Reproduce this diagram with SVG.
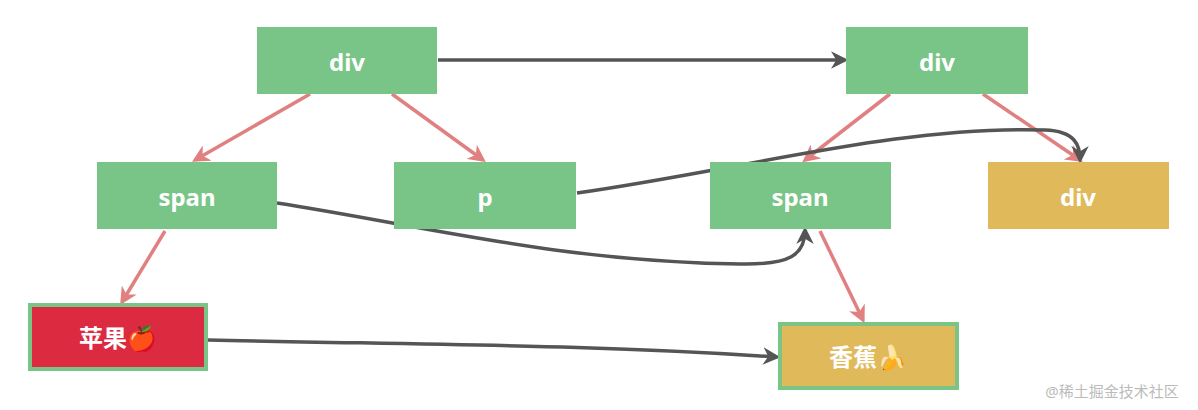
<svg xmlns="http://www.w3.org/2000/svg" width="1198" height="410" viewBox="0 0 1198 410">
<style>
.g{fill:#78c587}.y{fill:#dfb95a}.r{fill:#dc2a40}
.b{stroke:#78c587;stroke-width:4}
text{font-family:"Noto Sans","Noto Sans CJK SC",sans-serif;font-weight:bold;font-size:24px;fill:#fff;text-anchor:middle;dominant-baseline:central}
.red{stroke:#e08080;stroke-width:3.5;fill:none;marker-end:url(#ar)}
.dk{stroke:#555;stroke-width:3.5;fill:none;marker-end:url(#ad)}
</style>
<defs>
<marker id="ar" viewBox="0 0 10 10" refX="8" refY="5" markerWidth="5" markerHeight="5" orient="auto"><path d="M0,0L10,5L0,10L3,5z" fill="#e08080"/></marker>
<marker id="ad" viewBox="0 0 10 10" refX="8" refY="5" markerWidth="5" markerHeight="5" orient="auto"><path d="M0,0L10,5L0,10L3,5z" fill="#555"/></marker>
</defs>
<rect width="1198" height="410" fill="#fff"/>
<g id="connectors">
<path class="red" d="M310,94L195,160"/>
<path class="red" d="M392,94L483,160"/>
<path class="red" d="M165,231L122,302"/>
<path class="red" d="M890,94L805,160"/>
<path class="red" d="M983,94L1080,160"/>
<path class="red" d="M820,231L863,320"/>
<path class="dk" d="M438,60L845,60"/>
<path class="dk" d="M277,203C420,225 560,262 740,264C790,265 805,255 805,230"/>
<path class="dk" d="M577,193C740,170 900,125 1045,130C1075,131 1080,145 1080,160"/>
<path class="dk" d="M208,340C450,345 600,345 777,357"/>
</g>
<g id="n1"><rect class="g" x="257" y="27" width="180" height="67"/><text x="347" y="61">div</text></g>
<g id="n2"><rect class="g" x="846" y="27" width="182" height="67"/><text x="937" y="61">div</text></g>
<g id="n3"><rect class="g" x="97" y="162" width="180" height="67"/><text x="187" y="196">span</text></g>
<g id="n4"><rect class="g" x="394" y="162" width="182" height="67"/><text x="485" y="196">p</text></g>
<g id="n5"><rect class="g" x="710" y="162" width="181" height="67"/><text x="800" y="196">span</text></g>
<g id="n6"><rect class="y" x="988" y="162" width="181" height="67"/><text x="1078" y="196">div</text></g>
<g id="n7"><rect class="r b" x="30" y="305" width="176" height="64"/><text x="118" y="337">苹果🍎</text></g>
<g id="n8"><rect class="y b" x="780" y="324" width="177" height="64"/><text x="868" y="356">香蕉🍌</text></g>
<text x="1112" y="391" style="font-size:15px;font-weight:normal;fill:#bbb">@稀土掘金技术社区</text>
</svg>
